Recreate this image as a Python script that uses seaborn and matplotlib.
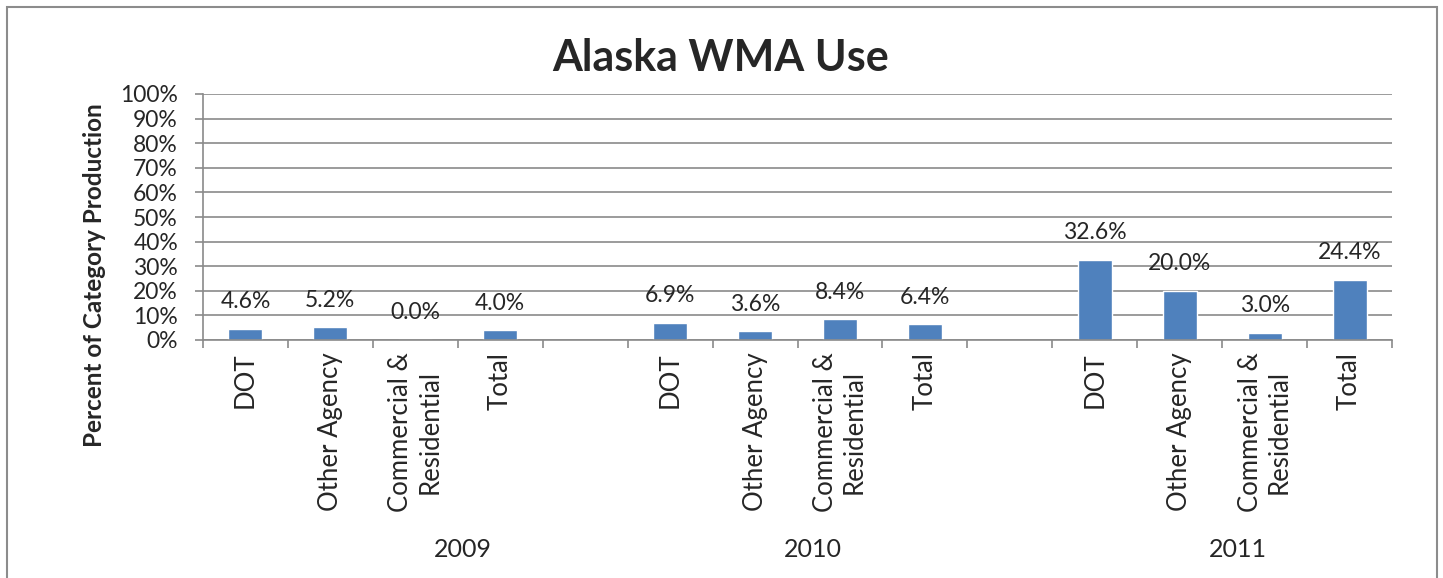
import numpy as np
import pandas as pd
import matplotlib.pyplot as plt
import seaborn as sns
from matplotlib.patches import Rectangle
import matplotlib.transforms as mtransforms

# values (percent of category production)
years = ["2009", "2010", "2011"]
categories = ["DOT", "Other Agency", "Commercial &\nResidential", "Total"]
use_2009 = [4.6, 5.2, 0.0, 4.0]
use_2010 = [6.9, 3.6, 8.4, 6.4]
use_2011 = [32.6, 20.0, 3.0, 24.4]

# build a long table, with an empty slot between years like the excel chart
rows = []
slot_names = []
slot_labels = []
for k, (yr, vals) in enumerate(zip(years, [use_2009, use_2010, use_2011])):
    if k > 0:
        slot_names.append("gap" + str(k))
        slot_labels.append("")
    for cat, v in zip(categories, vals):
        key = yr + " " + cat
        slot_names.append(key)
        slot_labels.append(cat)
        rows.append({"slot": key, "year": yr, "category": cat, "pct": v})
df = pd.DataFrame(rows)

sns.set_style("white")
plt.rcParams["font.family"] = ["Lato", "DejaVu Sans"]

GRID = "#8a8a8a"
BAR = "#4F81BD"

fig = plt.figure(figsize=(14.43, 5.78), dpi=100)
ax = fig.add_axes([203 / 1443, 1 - 340 / 578, 1189 / 1443, 246 / 578])

sns.barplot(data=df, x="slot", y="pct", order=slot_names, color=BAR,
            saturation=1, width=0.4, ax=ax)

ax.set_xlim(-0.5, len(slot_names) - 0.5)
ax.set_ylim(0, 100)
ax.set_yticks(np.arange(0, 101, 10))
ax.set_yticklabels([str(t) + "%" for t in range(0, 101, 10)], fontsize=16.5)
ax.yaxis.grid(True, color=GRID, linewidth=1.2)
ax.set_axisbelow(True)

# category labels in the middle of slots, tick marks at slot edges
ax.set_xticks(range(len(slot_names)))
ax.set_xticklabels(slot_labels, rotation=90, fontsize=18.5, va="top",
                   ha="center", multialignment="center")
ax.set_xticks(np.arange(-0.5, len(slot_names), 1), minor=True)
ax.tick_params(axis="x", which="major", length=0, pad=9)
ax.tick_params(axis="x", which="minor", length=6, width=1.2, color=GRID,
               bottom=True)
ax.tick_params(axis="y", length=6, width=1.2, color=GRID, left=True, pad=12)

for side in ["top", "right"]:
    ax.spines[side].set_visible(False)
for side in ["left", "bottom"]:
    ax.spines[side].set_color(GRID)
    ax.spines[side].set_linewidth(1.2)

ax.set_xlabel("")
ax.set_ylabel("Percent of Category Production", fontsize=17.5, fontweight="bold")
ax.yaxis.set_label_coords(-0.082, 0.265)

# value labels above the bars
for i, name in enumerate(slot_names):
    hit = df[df["slot"] == name]
    if len(hit) == 0:
        continue
    v = hit["pct"].iloc[0]
    ax.annotate("{:.1f}%".format(v), (i, v), xytext=(0, 19.5),
                textcoords="offset points", ha="center", va="center",
                fontsize=16.5)

# year labels under each group
year_label_x = [2.56, 6.68, 11.68]
trans = mtransforms.blended_transform_factory(ax.transData, ax.transAxes)
for yr, xp in zip(years, year_label_x):
    ax.text(xp, -0.85, yr, transform=trans, ha="center", va="center",
            fontsize=18)

fig.text(721 / 1443, 1 - 58 / 578, "Alaska WMA Use", ha="center",
         va="center", fontsize=31, fontweight="bold")

# chart border like the excel frame
fig.patches.append(Rectangle((7 / 1443, -0.05), 1430 / 1443, 1.05 - 7 / 578,
                             transform=fig.transFigure, fill=False,
                             edgecolor="#8c8c8c", linewidth=1.5))

fig.savefig("out.png", dpi=100)
